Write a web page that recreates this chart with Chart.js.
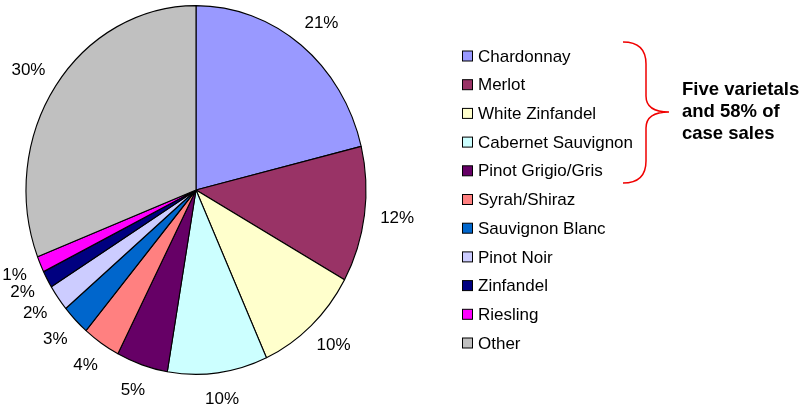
<!DOCTYPE html>
<html>
<head>
<meta charset="utf-8">
<script src="https://cdn.jsdelivr.net/npm/chart.js@4.4.1/dist/chart.umd.min.js"></script>
<style>
  html, body { margin: 0; padding: 0; background: #fff; }
</style>
</head>
<body>
<canvas id="wine-chart" width="805" height="408"></canvas>
<script>
// share of case sales by varietal (percent)
const varietals = ['Chardonnay', 'Merlot', 'White Zinfandel', 'Cabernet Sauvignon', 'Pinot Grigio/Gris',
    'Syrah/Shiraz', 'Sauvignon Blanc', 'Pinot Noir', 'Zinfandel', 'Riesling', 'Other'];
const shares = [21.2, 11.9, 10.1, 9.5, 4.9, 3.6, 2.7, 2.3, 1.5, 1.4, 30.9];
// rounded labels as printed on the chart
const shareLabels = ['21%', '12%', '10%', '10%', '5%', '4%', '3%', '2%', '2%', '1%', '30%'];
const sliceColors = ['#9999FF', '#993366', '#FFFFCC', '#CCFFFF', '#660066',
    '#FF8080', '#0066CC', '#CCCCFF', '#000080', '#FF00FF', '#C0C0C0'];
const noteLines = ['Five varietals', 'and 58% of', 'case sales'];

const FONT = '"Liberation Sans", Arial, sans-serif';
const squash = 0.922; // the pie is drawn as an ellipse, a bit narrower than tall

const ellipsePlugin = {
    id: 'ellipse',
    beforeDatasetsDraw(chart) {
        const arc = chart.getDatasetMeta(0).data[0];
        const ctx = chart.ctx;
        ctx.save();
        ctx.translate(arc.x, 0);
        ctx.scale(squash, 1);
        ctx.translate(-arc.x, 0);
    },
    afterDatasetsDraw(chart) {
        chart.ctx.restore();
    }
};

const percentLabels = {
    id: 'percentLabels',
    afterDraw(chart) {
        const ctx = chart.ctx;
        ctx.save();
        ctx.font = '17px ' + FONT;
        ctx.fillStyle = '#000';
        ctx.textAlign = 'center';
        ctx.textBaseline = 'middle';
        chart.getDatasetMeta(0).data.forEach((arc, i) => {
            const mid = (arc.startAngle + arc.endAngle) / 2;
            const cos = Math.cos(mid), sin = Math.sin(mid);
            const text = shareLabels[i];
            const w = ctx.measureText(text).width;
            const ax = arc.x + (arc.outerRadius * squash + 16) * cos;
            const ay = arc.y + (arc.outerRadius + 16) * sin;
            ctx.fillText(text, ax + cos * w / 2, ay + sin * 11);
        });
        ctx.restore();
    }
};

const sideLegend = {
    id: 'sideLegend',
    afterDraw(chart) {
        const ctx = chart.ctx;
        ctx.save();
        ctx.font = '17px ' + FONT;
        ctx.textBaseline = 'middle';
        varietals.forEach((name, i) => {
            const y = 56 + i * 28.7;
            ctx.fillStyle = sliceColors[i];
            ctx.fillRect(462.5, y - 5, 10, 10);
            ctx.strokeStyle = '#000';
            ctx.lineWidth = 1;
            ctx.strokeRect(462.5, y - 5, 10, 10);
            ctx.fillStyle = '#000';
            ctx.fillText(name, 478, y + 1);
        });

        // red brace around the top five
        ctx.strokeStyle = '#F00000';
        ctx.lineWidth = 1.5;
        ctx.beginPath();
        ctx.moveTo(623, 42);
        ctx.quadraticCurveTo(646, 42, 646, 64);
        ctx.lineTo(646, 96);
        ctx.quadraticCurveTo(646, 112, 669, 112);
        ctx.quadraticCurveTo(646, 112, 646, 128);
        ctx.lineTo(646, 161);
        ctx.quadraticCurveTo(646, 183, 623, 183);
        ctx.stroke();

        ctx.font = 'bold 18.5px ' + FONT;
        ctx.textBaseline = 'alphabetic';
        ctx.fillStyle = '#000';
        noteLines.forEach((line, i) => ctx.fillText(line, 682, 95 + i * 22));
        ctx.restore();
    }
};

new Chart(document.getElementById('wine-chart').getContext('2d'), {
    type: 'pie',
    data: {
        labels: varietals,
        datasets: [{
            data: shares,
            backgroundColor: sliceColors,
            borderColor: '#000',
            borderWidth: 1.2
        }]
    },
    options: {
        responsive: false,
        animation: false,
        layout: { padding: { left: 11, right: 424, top: 4, bottom: 32 } },
        plugins: {
            legend: { display: false },
            tooltip: { enabled: false }
        }
    },
    plugins: [ellipsePlugin, percentLabels, sideLegend]
});
</script>
</body>
</html>
